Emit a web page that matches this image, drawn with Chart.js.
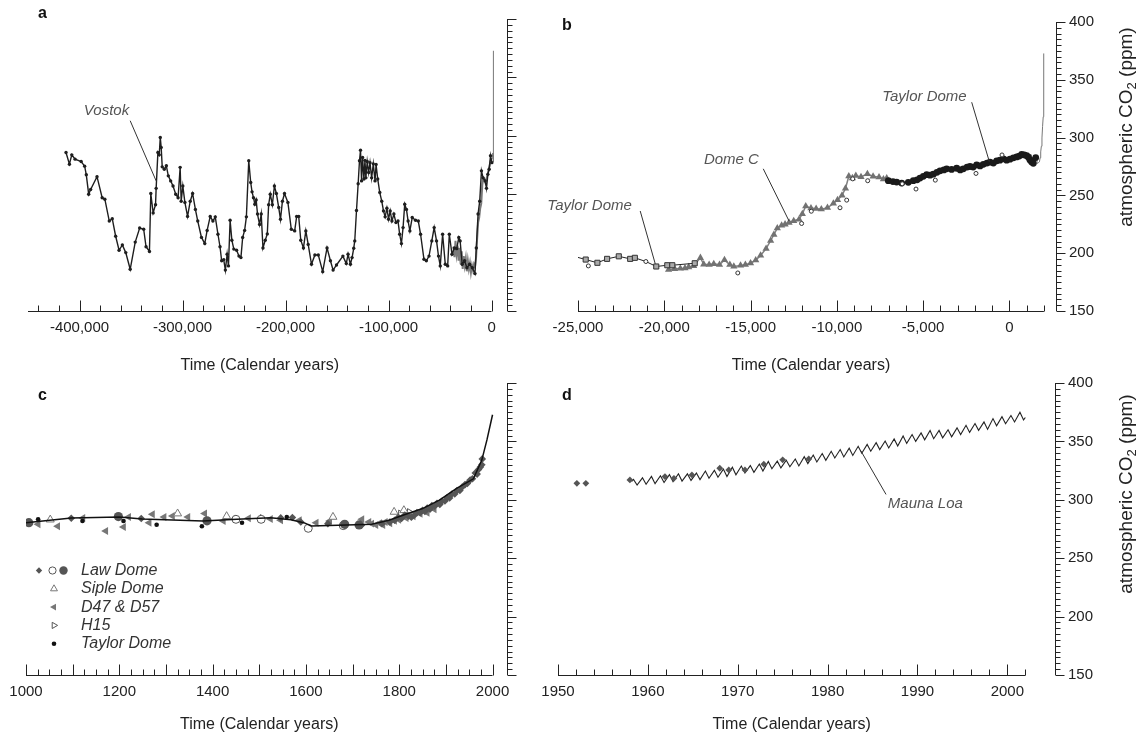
<!DOCTYPE html>
<html>
<head>
<meta charset="utf-8">
<script src="https://cdn.jsdelivr.net/npm/chart.js@4.4.1/dist/chart.umd.min.js"></script>
<style>
  html, body { margin: 0; padding: 0; background: #fff; }
  #wrap { position: relative; width: 1138px; height: 734px; }
  #wrap canvas { position: absolute; left: 0; top: 0; }
</style>
</head>
<body>
<div id="wrap">
  <canvas id="panelA" width="1138" height="734"></canvas>
  <canvas id="panelB" width="1138" height="734"></canvas>
  <canvas id="panelC" width="1138" height="734"></canvas>
  <canvas id="panelD" width="1138" height="734"></canvas>
</div>
<script>
// ---- data ----
const yLabels = [150, 200, 250, 300, 350, 400];
const xLabelsA = [-400000, -300000, -200000, -100000, 0];
const xLabelsB = [-25000, -20000, -15000, -10000, -5000, 0];
const xLabelsC = [1000, 1200, 1400, 1600, 1800, 2000];
const xLabelsD = [1950, 1960, 1970, 1980, 1990, 2000];

// panel a: Vostok
const vostokYears = [-413100,-409800,-407500,-404300,-398400,-395000,-393400,-391100,-389200,-383000,
  -378000,-375400,-371100,-368200,-364900,-361600,-358400,-355100,-350800,-345900,
  -341600,-337700,-335400,-332100,-330800,-328500,-326200,-325600,-323900,-322600,
  -321600,-320700,-319700,-317700,-315700,-313800,-311500,-309200,-306600,-304300,
  -302300,-301300,-299700,-297700,-295100,-292500,-290200,-287500,-285200,-281600,
  -278400,-276100,-273100,-270500,-268200,-265600,-263600,-262000,-260000,-258400,
  -256700,-255400,-253800,-252100,-250200,-247500,-245200,-243300,-241600,-239700,
  -238000,-235700,-233800,-232500,-231100,-229800,-228500,-227200,-225200,-223600,
  -221900,-219700,-217700,-216400,-214800,-212800,-210800,-208900,-206600,-204900,
  -203000,-201000,-197700,-194400,-191100,-189200,-187200,-185200,-182600,-180300,
  -178000,-174800,-171500,-168200,-163900,-159700,-156400,-153800,-150500,-144300,
  -141000,-139300,-137000,-135400,-133800,-132800,-131100,-129500,-128200,-127200,
  -126200,-125200,-123900,-122900,-122000,-120700,-119300,-118000,-116400,-114800,
  -113100,-112100,-110500,-108500,-106600,-104900,-103300,-101600,-100000,-98400,
  -96700,-94800,-92800,-90800,-89200,-87500,-85900,-84300,-82600,-81000,
  -79300,-77000,-73800,-71100,-68900,-65600,-63300,-60700,-58000,-55700,
  -53400,-51500,-49800,-47500,-44900,-42600,-41000,-38400,-36100,-33800,
  -31800,-30500,-28500,-26200,-23900,-21300,-18700,-16100,-14800,-13100,
  -11500,-9800,-8200,-6200,-4900,-3600,-2300,-1000,300];
const vostokCO2 = [285.7,275.7,283.7,280,278,274,266.6,250,254,265,
  247,245.7,227,229,214,202,206.6,200,185.7,209,
  221,220,205,201,250.6,234,241,255,285.7,283.7,
  298.6,290,273.4,271.4,274.3,265.7,261.4,257,250,247,
  273,244,257,243,231,244,250.6,237,227,213,
  207.7,219,231,227,230.6,215.7,205,193,194,185,
  198.6,188.6,227.7,210.6,203,202,197,195.7,213,219,
  230.6,278.6,260,252,247,241.4,245,233,224,233,
  204,210.6,216,241,250,241,257,250.6,238.6,228.6,
  244,250.6,243,220,218.6,231,231,210.6,204,218.6,
  207,190,198,198,183.7,204,193,185,189.4,197,
  190.6,198.6,190,195.7,203.7,210,236,259,278.6,287.7,
  261.4,281.4,263,279,264,278,268.6,277,264,276,
  261.4,275.4,263,251.4,244,235.7,230.6,238,228.6,235.7,
  227,233,225.7,227,215.7,207.7,221.4,241.4,237,227,
  218.6,230,227.7,227,215.7,194.3,193,197,210,221.4,
  210,197,188.6,215.7,190,188.6,215.7,198.6,204,203.4,
  212.9,210,190,193,187,190,187,182,204,233,
  244,270,264,261.4,255,267,271.4,283,277];

// panel a: grey overlay of the younger records
const greyYears = [-37000,-36000,-35000,-34000,-33000,-32000,-31000,-30000,-29000,-28000,
  -27000,-26000,-25000,-24000,-23000,-22000,-21000,-20000,-19000,-18000,
  -17000,-16000,-15000,-14000,-13000,-12000,-11000,-10000,-9000,-8000,
  -7000,-6000,-5000,-4000,-3000,-2000,-1000,0];
const greyCO2 = [205,196,210,199,206,193,204,190,201,186,
  197,189,195,184,193,186,191,183,189,185,
  190,188,196,212,226,230,238,242,258,264,
  263,260,263,266,270,274,278,281];

// panel c spline (also the modern end of panels a and b)
const splineYears = [1000,1097,1200,1249,1379,1452,1524,1568,1597,1611,1669,1741,1778,1814,1850,1886,1923,1959,1977,1988,2000];
const splineCO2 = [280.4,284.5,285.3,283.6,281.9,283.3,284.7,283,280.2,277.6,278.2,279,282.5,287.6,292.5,299.7,309.7,318,334,351.3,372.8];

// panel b
const tdGlacialYears = [-25040,-24554,-23876,-23314,-22636,-21977,-21705,-21066,-20465,-19826,-19535,-18236];
const tdGlacialCO2 = [196.5,194.5,191.7,195.1,197.3,195.1,196,192.8,188.5,189.6,189.6,191.3];
const domeCYears = [-19750,-19400,-19070,-18800,-18585,-18300,-17907,-17713,-17400,-17132,
  -16800,-16512,-16200,-15969,-15581,-15300,-15000,-14700,-14418,-14100,
  -13837,-13650,-13450,-13200,-13000,-12771,-12500,-12190,-12000,-11802,
  -11500,-11200,-10900,-10543,-10200,-9958,-9700,-9500,-9306,-9100,
  -8900,-8600,-8230,-7900,-7556,-7300,-7110];
const domeCCO2 = [185.7,186.5,186.8,187,188,189,196,190.4,190,190.8,
  190,194.2,190,188.5,189.4,190,191.3,194,198,204,
  210.8,216,221.6,224,225,226.5,228,229.3,234,240.7,
  239,238.5,238,239.3,243,246,250,256,266.6,265,
  267,266,268.6,266.5,265.7,264,264.9];
const otherBYears = [-24400,-15740,-12041,-11480,-9817,-9429,-9080,-8212,-6212,-5413,-4294,-1936,-429];
const otherBCO2 = [189,182.9,225.7,236.3,239.3,245.9,264.3,262.7,260,255.5,263.2,269,285];
const tdHoloYears = [-7017,-6750,-6534,-6244,-5858,-5568,-5350,-5181,-4990,-4795,
  -4600,-4409,-4200,-4022,-3800,-3636,-3350,-3056,-2850,-2670,
  -2450,-2284,-2100,-1897,-1700,-1511,-1300,-1125,-930,-738,
  -550,-352,-160,35,230,422,570,712,860,1002,
  1100,1193,1290,1386,1525];
const tdHoloCO2 = [262.7,262,261.5,260.7,261.3,262.7,263.5,265,266.5,267.9,
  267.5,268.4,270,271.3,272,273,272.5,273.5,272,273,
  274.5,275,274.5,276.4,275.5,276.9,278,278.7,278,279.9,
  280.5,281.6,280.5,281.3,282.5,283.3,284,285.5,285,284.4,
  283,280.7,279,277.8,282.7];

// panel c
const lawDiamondYears = [1097,1247,1448,1503,1546,1571,1589,1647,1719,1763,
  1780,1790,1798,1805,1812,1820,1826,1833,1838,1845,
  1850,1855,1860,1866,1870,1876,1881,1887,1892,1898,
  1903,1908,1913,1919,1924,1930,1935,1941,1946,1952,
  1957,1963,1967,1970,1974,1977,1978];
const lawDiamondCO2 = [284.2,284,284,284.5,284.5,284.8,281,279.6,278.2,279.6,
  281,282.5,285,284,287,286,285,287,289,289,
  291,290,293,292,295,294.5,297,296,299,299,
  302,301.5,305,305,308,308,311,313,314,317,
  318,323,322,326,328,330,335];
const lawDotYears = [1006,1198,1388,1683,1714];
const lawDotCO2 = [280.4,285.6,282,279,278.5];
const lawOpenYears = [1450,1504,1605,1680];
const lawOpenCO2 = [283.3,283.3,275.6,277.9];
const sipleYears = [1052,1325,1430,1658,1789,1810];
const sipleCO2 = [283,288.2,285.9,285.3,289.6,291];
const d47Years = [1026,1068,1122,1171,1209,1220,1264,1271,1296,1314,
  1347,1383,1423,1477,1524,1546,1586,1622,1651,1720,
  1735,1741,1750,1758,1765,1770,1780,1790,1799,1815,
  1830,1845,1860,1875];
const d47CO2 = [279,277.3,284.5,273.3,276.7,285.3,280.4,287.6,285.3,286.2,
  285.3,288.2,281.9,284.2,283.6,282.5,282.5,280.4,281.9,283.3,
  281,279.6,278.5,280,278.5,281,280,282,283,284.5,
  286,288,289,292];
const h15Years = [1803,1822];
const h15CO2 = [288.2,289.5];
const tdLateYears = [1026,1121,1209,1280,1377,1463,1559];
const tdLateCO2 = [283.3,281.9,281.9,278.7,277.3,280.4,285.3];

// panel d: Mauna Loa seasonal highs and lows
const mlYears = [1958.2,1958.4,1958.8,1959.4,1959.8,1960.4,1960.8,1961.4,1961.8,1962.4,1962.8,
  1963.4,1963.8,1964.4,1964.8,1965.4,1965.8,1966.4,1966.8,1967.4,1967.8,
  1968.4,1968.8,1969.4,1969.8,1970.4,1970.8,1971.4,1971.8,1972.4,1972.8,
  1973.4,1973.8,1974.4,1974.8,1975.4,1975.8,1976.4,1976.8,1977.4,1977.8,
  1978.4,1978.8,1979.4,1979.8,1980.4,1980.8,1981.4,1981.8,1982.4,1982.8,
  1983.4,1983.8,1984.4,1984.8,1985.4,1985.8,1986.4,1986.8,1987.4,1987.8,
  1988.4,1988.8,1989.4,1989.8,1990.4,1990.8,1991.4,1991.8,1992.4,1992.8,
  1993.4,1993.8,1994.4,1994.8,1995.4,1995.8,1996.4,1996.8,1997.4,1997.8,
  1998.4,1998.8,1999.4,1999.8,2000.4,2000.8,2001.4,2001.8,2002.0];
const mlCO2 = [315.7,317.5,312.7,318.8,313.3,320.0,313.8,320.6,314.8,321.6,315.5,
  322.3,316.0,322.2,316.6,322.9,317.3,324.6,318.5,325.2,319.3,
  326.3,319.9,327.9,321.4,328.9,322.9,329.3,323.5,330.6,324.6,
  332.8,326.6,333.1,327.3,333.9,328.3,334.9,329.0,336.9,331.0,
  338.3,332.4,339.6,333.8,341.5,335.8,343.0,336.7,344.2,338.0,
  345.8,339.9,347.4,341.6,348.9,343.0,350.3,344.4,352.1,346.0,
  354.6,348.3,355.9,350.0,357.3,351.4,359.3,352.3,359.4,353.1,
  360.0,353.9,361.6,355.9,363.8,357.7,365.3,359.5,366.7,360.3,
  369.5,363.3,371.1,365.1,372.2,366.7,375.0,368.4,370.5];
const lawDYears = [1952.1,1953.1,1958.0,1961.9,1962.9,1964.9,1968.0,1969.0,1970.8,1972.9,1975.0,1977.9];
const lawDCO2 = [314.1,314.1,317,319.9,318.4,321.3,327,325.6,325.6,330.5,334.2,335];

// ---- drawing helpers ----
const FONT = '"Liberation Sans", Arial, Helvetica, sans-serif';
const INK = '#222';
const pts = (xs, ys) => xs.map((v, i) => ({x: v, y: ys[i]}));

function tickValues(from, to, step) {
  const out = [];
  for (let n = Math.ceil(from / step - 1e-9); n <= Math.floor(to / step + 1e-9); n++) out.push(n * step);
  return out;
}

function marker(ctx, style, x, y) {
  ctx.save();
  ctx.fillStyle = style.fill;
  ctx.strokeStyle = style.stroke || style.fill;
  ctx.lineWidth = style.borderWidth || 1;
  if (Chart.helpers && Chart.helpers.drawPoint) {
    Chart.helpers.drawPoint(ctx, {pointStyle: style.pointStyle, radius: style.radius, rotation: style.rotation || 0, borderWidth: style.borderWidth || 0}, x, y);
  } else {
    ctx.beginPath(); ctx.arc(x, y, style.radius, 0, Math.PI * 2); ctx.fill();
  }
  ctx.restore();
}

const framePlugin = {
  id: 'frame',
  afterDraw(chart, args, o) {
    const {ctx, chartArea: area} = chart;
    const x = chart.scales.x, y = chart.scales.y;
    ctx.save();
    ctx.strokeStyle = INK;
    ctx.lineWidth = 1;
    // x axis with inward ticks
    const base = Math.round(y.getPixelForValue(150)) + 0.5;
    const x0 = x.getPixelForValue(x.min), x1 = x.getPixelForValue(o.xEnd);
    ctx.beginPath();
    ctx.moveTo(x0, base); ctx.lineTo(x1, base);
    tickValues(x.min, o.xEnd, o.xMinor).forEach(v => {
      const px = Math.round(x.getPixelForValue(v)) + 0.5;
      const r = v / o.xMajor;
      const major = Math.abs(r - Math.round(r)) < 1e-6;
      ctx.moveTo(px, base); ctx.lineTo(px, base - (major ? 11 : 6));
    });
    // separate y axis on the right
    const yx = Math.round(area.right) + 0.5;
    ctx.moveTo(yx, y.getPixelForValue(150)); ctx.lineTo(yx, y.getPixelForValue(400));
    tickValues(150, 400, 5).forEach(v => {
      const py = Math.round(y.getPixelForValue(v)) + 0.5;
      ctx.moveTo(yx, py); ctx.lineTo(yx + (v % 50 === 0 ? 9 : 5), py);
    });
    ctx.stroke();

    // panel letter
    ctx.fillStyle = '#111';
    ctx.font = 'bold 16px ' + FONT;
    ctx.textAlign = 'left'; ctx.textBaseline = 'middle';
    ctx.fillText(o.letter, o.letterX, o.letterY);

    // x title centred on the drawn axis
    ctx.fillStyle = INK;
    ctx.font = '16px ' + FONT;
    ctx.textAlign = 'center';
    ctx.fillText('Time (Calendar years)', (x0 + x1) / 2, o.titleY);

    // y title, reading upwards, with subscript
    if (o.yTitle) {
      ctx.save();
      ctx.translate(o.yTitle.x, o.yTitle.y);
      ctx.rotate(-Math.PI / 2);
      ctx.textAlign = 'left'; ctx.textBaseline = 'alphabetic';
      const big = '19px ' + FONT, small = '13px ' + FONT;
      ctx.font = big;
      const w1 = ctx.measureText('atmospheric CO').width, w3 = ctx.measureText(' (ppm)').width;
      ctx.font = small;
      const w2 = ctx.measureText('2').width;
      const sx = -(w1 + w2 + w3) / 2;
      ctx.font = big; ctx.fillText('atmospheric CO', sx, 6);
      ctx.font = small; ctx.fillText('2', sx + w1, 10);
      ctx.font = big; ctx.fillText(' (ppm)', sx + w1 + w2, 6);
      ctx.restore();
    }

    // labelled leader lines
    (o.notes || []).forEach(n => {
      ctx.strokeStyle = '#333';
      ctx.lineWidth = 1;
      ctx.beginPath();
      ctx.moveTo(x.getPixelForValue(n.line[0]), y.getPixelForValue(n.line[1]));
      ctx.lineTo(x.getPixelForValue(n.line[2]), y.getPixelForValue(n.line[3]));
      ctx.stroke();
      ctx.fillStyle = '#555';
      ctx.font = 'italic 15px ' + FONT;
      ctx.textAlign = n.align; ctx.textBaseline = 'middle';
      ctx.fillText(n.text, x.getPixelForValue(n.at[0]), y.getPixelForValue(n.at[1]));
    });

    // legend (panel c)
    if (o.legend) {
      o.legend.forEach((e, i) => {
        const ly = area.top + o.legendTop + i * 18.3;
        e.symbols.forEach(s => marker(ctx, s, area.left + s.dx, ly));
        ctx.fillStyle = '#333';
        ctx.font = 'italic 16px ' + FONT;
        ctx.textAlign = 'left'; ctx.textBaseline = 'middle';
        ctx.fillText(e.label, area.left + o.legendText, ly);
      });
    }
    ctx.restore();
  }
};

function xScale(min, max, labels, fmt) {
  return {
    type: 'linear', position: 'bottom', min: min, max: max,
    afterBuildTicks: s => { s.ticks = labels.map(v => ({value: v})); },
    afterFit: s => { s.height = 30; },
    grid: {display: false, drawTicks: false},
    border: {display: false},
    ticks: {font: {family: FONT, size: 15}, color: INK, padding: 8, maxRotation: 0, autoSkip: false, callback: fmt}
  };
}

function yScale(showLabels) {
  return {
    type: 'linear', position: 'right', min: 150, max: 400,
    afterBuildTicks: s => { s.ticks = yLabels.map(v => ({value: v})); },
    afterFit: s => { s.width = showLabels ? 50 : 10; },
    grid: {display: false, drawTicks: false},
    border: {display: false},
    ticks: {display: showLabels, font: {family: FONT, size: 15}, color: INK, padding: 13}
  };
}

const withComma = v => Number(v).toLocaleString('en-US');
const plain = v => String(v);

function makeChart(id, datasets, scales, padding, frame) {
  return new Chart(document.getElementById(id), {
    type: 'scatter',
    data: {datasets: datasets},
    options: {
      responsive: false,
      animation: false,
      events: [],
      layout: {padding: padding},
      scales: scales,
      elements: {line: {tension: 0}},
      plugins: {legend: {display: false}, tooltip: {enabled: false}, frame: frame}
    },
    plugins: [framePlugin]
  });
}

// ---- panel a ----
makeChart('panelA', [
  {data: pts(vostokYears, vostokCO2), showLine: true, borderColor: '#1e1e1e', borderWidth: 1.4,
   pointRadius: 1.7, pointBackgroundColor: '#1e1e1e', pointBorderWidth: 0},
  {data: pts(greyYears, greyCO2), showLine: true, borderColor: '#7a7a7a', borderWidth: 2, pointRadius: 0},
  {data: pts(splineYears, splineCO2), showLine: true, borderColor: '#777', borderWidth: 1, pointRadius: 0}
], {x: xScale(-450000, 15000, xLabelsA, withComma), y: yScale(false)},
{left: 28, top: 19, right: 621, bottom: 393},
{letter: 'a', letterX: 38, letterY: 14, xEnd: 0, xMajor: 100000, xMinor: 20000, titleY: 366,
 notes: [{text: 'Vostok', at: [-351800, 321.4], align: 'right', line: [-350800, 312.9, -325600, 261.4]}]});

// ---- panel b ----
const tdStyles = tdGlacialYears.map((v, i) => i === 0 ? 'circle' : (i === 7 ? 'circle' : 'rect'));
const tdRadius = tdGlacialYears.map((v, i) => i === 0 ? 0 : (i === 7 ? 2 : 3.6));
const tdFill = tdGlacialYears.map((v, i) => i === 7 ? '#fff' : '#aaa');
makeChart('panelB', [
  {data: pts(otherBYears, otherBCO2), pointRadius: 2, pointBackgroundColor: '#fff', pointBorderColor: '#333', pointBorderWidth: 1},
  {data: pts(tdGlacialYears, tdGlacialCO2), showLine: true, borderColor: '#222', borderWidth: 1,
   pointStyle: tdStyles, pointRadius: tdRadius, pointBackgroundColor: tdFill, pointBorderColor: '#333', pointBorderWidth: 1},
  {data: pts(tdHoloYears, tdHoloCO2), showLine: true, borderColor: '#1a1a1a', borderWidth: 2,
   pointRadius: 3.4, pointBackgroundColor: '#1a1a1a', pointBorderWidth: 0},
  {data: pts(domeCYears, domeCCO2), showLine: true, borderColor: '#808080', borderWidth: 1.5,
   pointStyle: 'triangle', pointRadius: 4.2, pointBackgroundColor: '#727272', pointBorderColor: '#727272', pointBorderWidth: 0},
  {data: pts(splineYears, splineCO2), showLine: true, borderColor: '#777', borderWidth: 1, pointRadius: 0}
], {x: xScale(-25000, 2700, xLabelsB, withComma), y: yScale(true)},
{left: 578, top: 19, right: 32, bottom: 393},
{letter: 'b', letterX: 562, letterY: 26, xEnd: 2000, xMajor: 5000, xMinor: 1000, titleY: 366,
 yTitle: {x: 1126, y: 127},
 notes: [
   {text: 'Taylor Dome', at: [-21880, 240.7], align: 'right', line: [-21395, 236.5, -20523, 190.8]},
   {text: 'Dome C', at: [-14516, 280.7], align: 'right', line: [-14264, 273, -12771, 227.9]},
   {text: 'Taylor Dome', at: [-2475, 334.9], align: 'right', line: [-2185, 330.6, -1165, 279.3]}
 ]});

// ---- panel c ----
const lawDiamondStyle = {pointStyle: 'rectRot', radius: 3.8, fill: '#555'};
const lawOpenStyle = {pointStyle: 'circle', radius: 4, fill: '#fff', stroke: '#555', borderWidth: 1};
const lawDotStyle = {pointStyle: 'circle', radius: 4.6, fill: '#555'};
const sipleStyle = {pointStyle: 'triangle', radius: 4.6, fill: '#fff', stroke: '#777', borderWidth: 1};
const d47Style = {pointStyle: 'triangle', radius: 4.6, rotation: -90, fill: '#777'};
const h15Style = {pointStyle: 'triangle', radius: 4, rotation: 90, fill: '#fff', stroke: '#555', borderWidth: 1};
const tdStyle = {pointStyle: 'circle', radius: 2.3, fill: '#111'};
const ds = (xs, ys, st) => ({
  data: pts(xs, ys), pointStyle: st.pointStyle, pointRadius: st.radius, pointRotation: st.rotation || 0,
  pointBackgroundColor: st.fill, pointBorderColor: st.stroke || st.fill, pointBorderWidth: st.borderWidth || 0
});
makeChart('panelC', [
  ds(tdLateYears, tdLateCO2, tdStyle),
  {data: pts(splineYears, splineCO2), showLine: true, borderColor: '#111', borderWidth: 1.5, pointRadius: 0},
  ds(lawDotYears, lawDotCO2, lawDotStyle),
  ds(lawOpenYears, lawOpenCO2, lawOpenStyle),
  ds(lawDiamondYears, lawDiamondCO2, lawDiamondStyle),
  ds(sipleYears, sipleCO2, sipleStyle),
  ds(h15Years, h15CO2, h15Style),
  ds(d47Years, d47CO2, d47Style)
], {x: xScale(1000, 2031, xLabelsC, plain), y: yScale(false)},
{left: 26, top: 383, right: 621, bottom: 29},
{letter: 'c', letterX: 38, letterY: 396, xEnd: 2000, xMajor: 100, xMinor: 25, titleY: 725,
 legendTop: 187.5, legendText: 55,
 legend: [
   {label: 'Law Dome', symbols: [Object.assign({dx: 13}, lawDiamondStyle, {radius: 3.2}),
                                  Object.assign({dx: 26.5}, lawOpenStyle, {radius: 3.6}),
                                  Object.assign({dx: 37.5}, lawDotStyle, {radius: 4.2})]},
   {label: 'Siple Dome', symbols: [Object.assign({dx: 28}, sipleStyle, {radius: 4})]},
   {label: 'D47 & D57', symbols: [Object.assign({dx: 28}, d47Style, {radius: 4})]},
   {label: 'H15', symbols: [Object.assign({dx: 28}, h15Style, {radius: 3.6})]},
   {label: 'Taylor Dome', symbols: [Object.assign({dx: 28}, tdStyle)]}
 ]});

// ---- panel d ----
makeChart('panelD', [
  {data: pts(lawDYears, lawDCO2), pointStyle: 'rectRot', pointRadius: 3.4, pointBackgroundColor: '#555', pointBorderWidth: 0},
  {data: pts(mlYears, mlCO2), showLine: true, borderColor: '#222', borderWidth: 1.1, pointRadius: 0}
], {x: xScale(1950, 2005.3, xLabelsD, plain), y: yScale(true)},
{left: 558, top: 383, right: 33, bottom: 29},
{letter: 'd', letterX: 562, letterY: 396, xEnd: 2002, xMajor: 10, xMinor: 2, titleY: 725,
 yTitle: {x: 1126, y: 494},
 notes: [{text: 'Mauna Loa', at: [1986.7, 296.9], align: 'left', line: [1983.7, 341.9, 1986.5, 304.6]}]});
</script>
</body>
</html>
